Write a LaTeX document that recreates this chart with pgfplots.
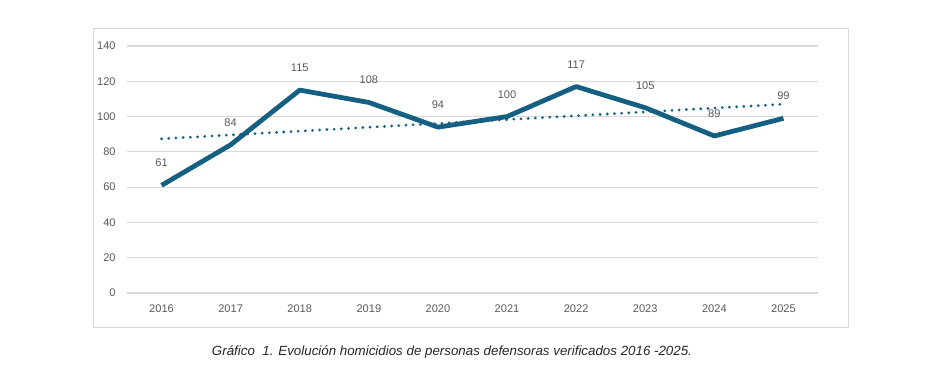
\documentclass[border=0pt]{standalone}
\usepackage{pgfplots}
\pgfplotsset{compat=1.18}
\usepackage{fontspec}
\setmainfont{Liberation Sans}
\definecolor{serie}{HTML}{156082}
\definecolor{txt}{HTML}{595959}
\definecolor{gridc}{HTML}{D9D9D9}
\begin{document}
\begin{tikzpicture}
\path[use as bounding box] (0pt,0pt) rectangle (705pt,288pt);
\draw[gridc, line width=0.6pt] (69.75pt,267pt) rectangle (636pt,42.75pt);
\begin{axis}[
  at={(95.25pt,68.25pt)}, anchor=south west,
  scale only axis, width=518.25pt, height=185.25pt,
  xmin=-0.5, xmax=9.5, ymin=0, ymax=140,
  xtick={0,...,9},
  xticklabels={2016,2017,2018,2019,2020,2021,2022,2023,2024,2025},
  ytick={0,20,...,140},
  axis line style={opacity=0},
  x axis line style={opacity=0}, y axis line style={opacity=0},
  major tick length=0pt,
  ymajorgrids, grid style={draw=gridc, line width=0.8pt},
  tick label style={font=\fontsize{8.3}{10}\selectfont, text=txt},
  yticklabel style={xshift=-5pt},
  xticklabel style={yshift=-5pt},
  /pgf/number format/assume math mode=true,
  clip=false,
]
\addplot[serie, line width=3.6pt, line join=round, mark=none,
  nodes near coords,
  every node near coord/.append style={font=\fontsize{8.3}{10}\selectfont, text=txt, anchor=south, inner sep=0pt, yshift=12pt}]
  coordinates {(0,61)(1,84)(2,115)(3,108)(4,94)(5,100)(6,117)(7,105)(8,89)(9,99)};
\addplot[serie, line width=2.3pt, line cap=round, dash pattern=on 0pt off 5.4pt, mark=none]
  coordinates {(0,87.4)(9,107.0)};
\end{axis}
\node[font=\fontsize{10}{12}\selectfont\itshape, text=black!85] at (339pt,24pt) {Gráfico\ \ 1. Evolución homicidios de personas defensoras verificados 2016 -2025.};
\end{tikzpicture}
\end{document}
